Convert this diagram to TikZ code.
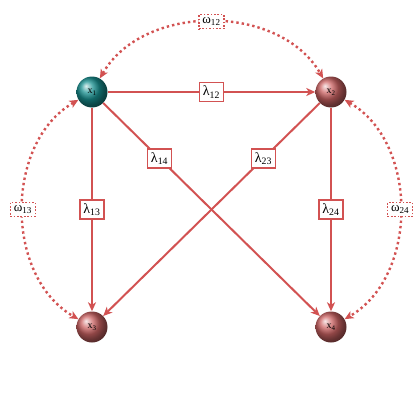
\documentclass[tikz,border=0pt]{standalone}
\usepackage{fontspec}
\setmainfont{Liberation Serif}
\usetikzlibrary{arrows.meta,shadings}
\definecolor{edgered}{RGB}{210,82,82}
\definecolor{tealball}{RGB}{25,145,145}
\definecolor{redball}{RGB}{205,100,100}
\begin{document}
\begin{tikzpicture}[x=1pt,y=-1pt,
  ball/.style={circle,minimum size=31pt,inner sep=0pt,shading=ball,font=\fontsize{10}{12}\selectfont},
  lam/.style={draw=edgered,fill=white,line width=1.5pt,inner xsep=3.5pt,inner ysep=3.5pt,font=\fontsize{14}{16}\selectfont,solid},
  om/.style={draw=edgered,fill=white,line width=1.3pt,dash pattern=on 1.7pt off 1.7pt,inner xsep=3.5pt,inner ysep=3pt,font=\fontsize{13}{15}\selectfont},
  link/.style={draw=edgered,line width=2pt,-{Stealth[length=9pt,width=8pt,inset=2.5pt]}},
  dlink/.style={draw=edgered,line width=2.4pt,dash pattern=on 2.4pt off 3pt,{Stealth[length=9pt,width=8pt,inset=2.5pt]}-{Stealth[length=9pt,width=8pt,inset=2.5pt]}}]
\useasboundingbox (0,0) rectangle (420,420);
\node[ball,ball color=tealball] (x1) at (92,92) {x\textsubscript{1}};
\node[ball,ball color=redball] (x2) at (331,92) {x\textsubscript{2}};
\node[ball,ball color=redball] (x3) at (92,327) {x\textsubscript{3}};
\node[ball,ball color=redball] (x4) at (331,327) {x\textsubscript{4}};
\draw[link] (x1) -- node[lam] (l12) {λ\textsubscript{12}} (x2);
\draw[link] (x1) -- node[lam] (l13) {λ\textsubscript{13}} (x3);
\draw[link] (x1) -- node[lam,pos=0.26] (l14) {λ\textsubscript{14}} (x4);
\draw[link] (x2) -- node[lam,pos=0.26] (l23) {λ\textsubscript{23}} (x3);
\draw[link] (x2) -- node[lam] (l24) {λ\textsubscript{24}} (x4);
\draw[dlink] (x1) to[out=60,in=120,looseness=1.0] node[om,pos=0.5] (o12) {ω\textsubscript{12}} (x2);
\draw[dlink] (x1) to[out=210,in=150,looseness=1.0] node[om,pos=0.5] (o13) {ω\textsubscript{13}} (x3);
\draw[dlink] (x2) to[out=-30,in=30,looseness=1.0] node[om,pos=0.5] (o24) {ω\textsubscript{24}} (x4);
\end{tikzpicture}
\end{document}
